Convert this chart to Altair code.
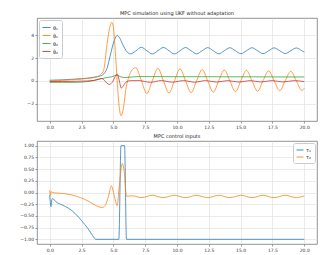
import altair as alt
import pandas as pd

COLORS = ["#1f77b4", "#ff7f0e", "#2ca02c", "#d62728"]
top_labels = ["θ₁", "θ̇₁", "θ₂", "θ̇₂"]
bot_labels = ["τ₁", "τ₂"]
x_ticks = [0, 2.5, 5, 7.5, 10, 12.5, 15, 17.5, 20]
top_y_ticks = [-2, 0, 2, 4]
bot_y_ticks = [-1, -0.75, -0.5, -0.25, 0, 0.25, 0.5, 0.75, 1]

# theta_1
th1_t = [0, 1, 2, 2.5, 3, 3.5, 4.0, 4.25, 4.5, 4.75, 5.0, 5.15, 5.3, 5.5, 5.75, 6.0,
         6.33, 6.76, 7.2, 7.63, 8.06, 8.5, 8.93, 9.37, 9.8, 10.24, 10.67, 11.11, 11.54,
         11.98, 12.41, 12.85, 13.28, 13.72, 14.15, 14.59, 15.02, 15.46, 15.89, 16.33,
         16.76, 17.2, 17.63, 18.07, 18.5, 18.94, 19.37, 19.81, 20.0]
th1_v = [0.06, 0.1, 0.16, 0.2, 0.25, 0.33, 0.45, 0.62, 1.1, 2.2, 3.3, 3.75, 3.97, 3.75, 3.15, 2.65,
         2.36, 2.62, 2.94, 2.64, 2.36, 2.64, 2.93, 2.64, 2.36, 2.64, 2.92, 2.64, 2.37,
         2.64, 2.91, 2.64, 2.37, 2.64, 2.9, 2.64, 2.38, 2.64, 2.9, 2.64,
         2.38, 2.64, 2.89, 2.64, 2.39, 2.64, 2.88, 2.64, 2.52]

# theta_1 dot
th1d_t = [0, 1, 2, 3, 3.5, 4.0, 4.25, 4.5, 4.7, 4.88, 5.0, 5.15, 5.3, 5.45, 5.61, 5.8, 6.0,
          6.2, 6.4, 6.76, 7.2, 7.63, 8.06, 8.5, 8.93, 9.37, 9.8, 10.24, 10.67, 11.11, 11.54,
          11.98, 12.41, 12.85, 13.28, 13.72, 14.15, 14.59, 15.02, 15.46, 15.89, 16.33,
          16.76, 17.2, 17.63, 18.07, 18.5, 18.94, 19.37, 19.81, 20.0]
th1d_v = [0.0, 0.05, 0.12, 0.22, 0.3, 0.55, 1.0, 3.2, 4.6, 5.13, 4.7, 2.6, 0.0, -2.2, -3.04,
          -2.3, -0.6, 0.3, 0.85, 1.16, 0.02, -1.1, 0.02, 1.1, 0.02, -1.06, 0.02, 1.06, 0.02,
          -1.02, 0.02, 1.0, 0.02, -0.98, 0.02, 0.96, 0.02, -0.94, 0.02, 0.92, 0.02, -0.9,
          0.02, 0.88, 0.02, -0.86, 0.02, 0.84, 0.02, -0.82, -0.64]

# theta_2
th2_t = [0, 1, 2, 2.5, 3, 3.5, 4.0, 4.5, 4.8, 5.0, 5.2, 5.35, 5.6, 5.9, 6.3, 7, 8, 10,
         12, 14, 16, 18, 20]
th2_v = [-0.12, -0.12, -0.12, -0.1, -0.05, 0.05, 0.18, 0.3, 0.35, 0.4, 0.5, 0.47, 0.35,
         0.3, 0.33, 0.38, 0.38, 0.37, 0.37, 0.36, 0.36, 0.35, 0.35]

# theta_2 dot
th2d_t = [0, 1, 2, 3, 3.5, 3.8, 4.05, 4.3, 4.5, 4.7, 4.95, 5.15, 5.3, 5.45, 5.62, 5.8, 6.0,
          6.3, 7.03, 7.9, 8.77, 9.64, 10.51, 11.38, 12.25, 13.12, 13.99, 14.86, 15.73,
          16.6, 17.47, 18.34, 19.21, 20.0]
th2d_v = [-0.05, -0.05, -0.03, 0.0, 0.05, 0.15, 0.22, 0.05, -0.2, -0.3, -0.05, 0.4, 0.62,
          0.1, -0.62, -0.4, -0.1, 0.02, 0.03, -0.12, 0.03, -0.11, 0.03, -0.11, 0.03, -0.1,
          0.03, -0.1, 0.03, -0.09, 0.03, -0.09, 0.03, -0.06]

# tau_1
tau1_t = [0, 0.05, 0.1, 0.15, 0.22, 0.5, 1.0, 1.5, 2.0, 2.5, 3.0, 3.25, 3.5, 3.6, 5.43,
          5.6, 5.88, 6.03, 20]
tau1_v = [-0.05, -0.22, -0.3, -0.18, -0.13, -0.2, -0.27, -0.34, -0.45, -0.6, -0.77, -0.87,
          -0.97, -1.0, -1.0, 1.0, 1.0, -1.0, -1.0]

# tau_2
tau2_t = [0, 0.05, 0.1, 0.2, 0.5, 1.0, 1.5, 2.0, 2.5, 3.0, 3.5, 3.8, 4.1, 4.35, 4.6, 4.85,
          5.05, 5.3, 5.45, 5.7, 5.85, 6.03, 6.5, 7.19, 8.06, 8.93, 9.8, 10.67, 11.54, 12.41,
          13.28, 14.15, 15.02, 15.89, 16.76, 17.63, 18.5, 19.37, 20.0]
tau2_v = [0.05, -0.06, 0.02, 0.0, -0.01, -0.02, -0.04, -0.07, -0.12, -0.18, -0.26, -0.3,
          -0.32, -0.28, -0.1, 0.14, -0.05, -0.28, 0.1, 0.62, 0.45, -0.08, -0.07, -0.11,
          -0.06, -0.11, -0.06, -0.11, -0.06, -0.11, -0.06, -0.11, -0.06, -0.11, -0.06,
          -0.11, -0.06, -0.11, -0.07]


def series(ts, vs, name, order):
    return pd.DataFrame({"t": ts, "v": vs, "s": name, "o": order})


df_top = pd.concat([
    series(th1_t, th1_v, top_labels[0], 0),
    series(th1d_t, th1d_v, top_labels[1], 1),
    series(th2_t, th2_v, top_labels[2], 2),
    series(th2d_t, th2d_v, top_labels[3], 3),
])
df_bot = pd.concat([
    series(tau1_t, tau1_v, bot_labels[0], 0),
    series(tau2_t, tau2_v, bot_labels[1], 1),
])

FONT = "DejaVu Sans"


def x_enc():
    return alt.X("t:Q", scale=alt.Scale(domain=[-1, 21], nice=False, zero=False),
                 axis=alt.Axis(values=x_ticks, format=".1f", title=None))


legend_common = dict(title=None, symbolType="stroke", symbolStrokeWidth=1,
                     symbolOpacity=0.85,
                     fillColor="white", strokeColor="#cccccc", padding=3,
                     cornerRadius=2, rowPadding=0, labelOffset=2, offset=2,
                     labelFontSize=5, labelFont=FONT, labelColor="#333333")

top = alt.Chart(df_top).mark_line(strokeWidth=0.9, opacity=0.85, interpolate="monotone").encode(
    x=x_enc(),
    y=alt.Y("v:Q", scale=alt.Scale(domain=[-3.5, 5.5], nice=False, zero=False),
            axis=alt.Axis(values=top_y_ticks, format=".0f", title=None)),
    color=alt.Color("s:N", scale=alt.Scale(domain=top_labels, range=COLORS),
                    legend=alt.Legend(orient="top-left", symbolSize=64, **legend_common)),
    detail="o:N",
).properties(width=280, height=103,
             title=alt.TitleParams("MPC simulation using UKF without adaptation"))

bottom = alt.Chart(df_bot).mark_line(strokeWidth=0.9, opacity=0.85, interpolate="monotone").encode(
    x=x_enc(),
    y=alt.Y("v:Q", scale=alt.Scale(domain=[-1.1, 1.1], nice=False, zero=False),
            axis=alt.Axis(values=bot_y_ticks, format=".2f", title=None)),
    color=alt.Color("s:N", scale=alt.Scale(domain=bot_labels, range=COLORS[:2]),
                    legend=alt.Legend(orient="top-right", symbolSize=49, **legend_common)),
    detail="o:N",
).properties(width=280, height=103, title=alt.TitleParams("MPC control inputs"))

chart = alt.vconcat(top, bottom, spacing=3).resolve_scale(color="independent").properties(
    padding={"left": 11, "top": 2, "right": 5, "bottom": 0}
).configure_axis(
    labelFontSize=4.5, labelFont=FONT, labelColor="#333333", tickSize=2,
    tickColor="#555555", tickWidth=0.6, gridColor="#dddddd", gridWidth=0.6,
    domain=False, labelPadding=1.5, minExtent=0
).configure_view(
    stroke="#777777", strokeWidth=0.8
).configure_title(
    fontSize=5, font=FONT, fontWeight="normal", color="#222222", offset=2
)

chart.save("out.html", embed_options={"renderer": "svg", "actions": False})
